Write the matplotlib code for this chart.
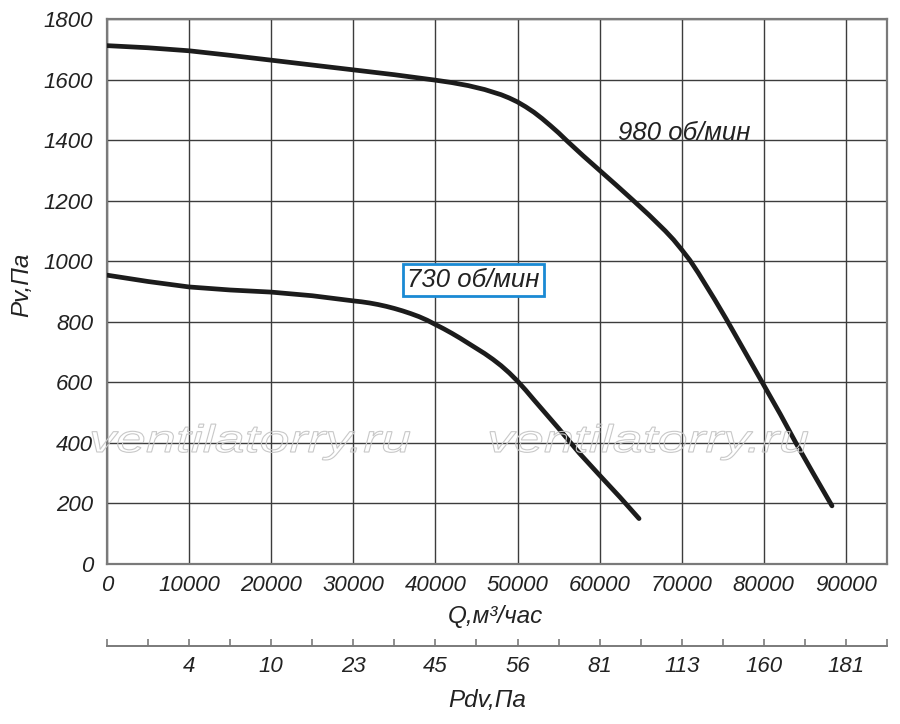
import matplotlib
matplotlib.use('Agg')
import matplotlib.pyplot as plt
from matplotlib.textpath import TextPath
from matplotlib.patches import PathPatch
from matplotlib.font_manager import FontProperties
from matplotlib.transforms import Affine2D

plt.rcParams['font.family'] = ['Liberation Sans', 'DejaVu Sans']
plt.rcParams['font.style'] = 'italic'

# 980 об/мин
q980 = [0, 5000, 10000, 15000, 20000, 25000, 30000, 35000, 40000, 42000, 44000, 46000,
        48000, 49000, 50000, 51000, 52000, 53000, 54000, 55000, 56000, 58000, 60000,
        62000, 64000, 66000, 68000, 69000, 70000, 71000, 72000, 74000, 75400, 77500, 79800,
        82000, 83900, 86000, 88300]
p980 = [1712, 1705, 1695, 1680, 1664, 1648, 1632, 1616, 1598, 1590, 1580, 1567,
        1550, 1539, 1526, 1510, 1492, 1471, 1448, 1424, 1398, 1348, 1300,
        1252, 1203, 1153, 1100, 1071, 1038, 1003, 962, 874, 810, 710, 600,
        495, 400, 300, 192]

# 730 об/мин
q730 = [0, 5000, 10000, 15000, 20000, 25000, 30000, 31000, 32000, 33000, 34000, 35000,
        36000, 37000, 38000, 39000, 40000, 41000, 42000, 43000, 44000, 45000, 46000,
        47000, 48000, 49000, 50000, 51000, 52000, 55000, 57500, 60000, 62500, 64800]
p730 = [954, 933, 915, 905, 898, 886, 869, 866, 862, 857, 851, 844,
        836, 827, 817, 805, 791, 777, 762, 746, 729, 712, 695,
        676, 655, 631, 604, 574, 542, 448, 367, 293, 220, 150]

q_ticks = [0, 10000, 20000, 30000, 40000, 50000, 60000, 70000, 80000, 90000]
p_ticks = [0, 200, 400, 600, 800, 1000, 1200, 1400, 1600, 1800]
pdv_pos = [10000, 20000, 30000, 40000, 50000, 60000, 70000, 80000, 90000]
pdv_labels = ['4', '10', '23', '45', '56', '81', '113', '160', '181']

W, H = 900, 724
txt = '#222222'
fig = plt.figure(figsize=(W / 100, H / 100), dpi=100)
ax = fig.add_axes([107 / W, 1 - 564 / H, 780 / W, 545 / H])
ax.set_xlim(0, 95000)
ax.set_ylim(0, 1800)
ax.set_xticks(q_ticks)
ax.set_xticklabels([str(v) for v in q_ticks])
ax.set_yticks(p_ticks)
ax.tick_params(length=0, labelsize=16, labelcolor=txt)
ax.tick_params(axis='x', pad=8)
ax.tick_params(axis='y', pad=10)
ax.grid(True, color='#3c3c3c', lw=1.0)
ax.set_axisbelow(True)
for s in ax.spines.values():
    s.set_color('#7a7a7a')
    s.set_linewidth(1.6)

ax.plot(q980, p980, color='#1c1c1c', lw=3.4, solid_capstyle='round', solid_joinstyle='round', zorder=5)
ax.plot(q730, p730, color='#1c1c1c', lw=3.4, solid_capstyle='round', solid_joinstyle='round', zorder=5)

ax.text(70300, 1423, '980 об/мин', fontsize=18.5, color=txt, ha='center', va='center', zorder=3)
ax.text(44650, 938, '730 об/мин', fontsize=18.5, color=txt, ha='center', va='center', zorder=6,
        bbox=dict(boxstyle='square,pad=0.16', fc='white', ec='#1a8ad4', lw=2))

# watermark
fp = FontProperties(family='Liberation Sans', style='italic')
tp = TextPath((0, 0), 'ventilatorry.ru', size=38.5, prop=fp)
ext = tp.get_extents()
sx = 318 / ext.width
for x0 in [92, 490]:
    tr = Affine2D().translate(-ext.x0, 0).scale(sx, 1).translate(x0, H - 452) \
        + Affine2D().scale(1 / W, 1 / H) + fig.transFigure
    fig.patches.append(PathPatch(tp, transform=tr, fc='none', ec='#c8c8c8', lw=0.8, zorder=4))

# second scale
ax2 = fig.add_axes([107 / W, 1 - 646 / H, 780 / W, 0.0001])
ax2.set_xlim(0, 95000)
for k in ['left', 'right', 'top']:
    ax2.spines[k].set_visible(False)
ax2.spines['bottom'].set_color('#7a7a7a')
ax2.spines['bottom'].set_linewidth(1.4)
ax2.set_yticks([])
ax2.set_xticks(list(range(0, 95001, 5000)), minor=True)
ax2.set_xticks(pdv_pos)
ax2.set_xticklabels(pdv_labels)
ax2.tick_params(axis='x', which='both', direction='in', length=5, width=1.2, color='#7a7a7a')
ax2.tick_params(axis='x', which='major', labelsize=16, labelcolor=txt, pad=7)
ax2.patch.set_visible(False)

fig.text(495 / W, 1 - 617 / H, 'Q,м³/час', fontsize=17.5, color=txt, ha='center', va='center')
fig.text(487 / W, 1 - 700 / H, 'Pdv,Па', fontsize=17.5, color=txt, ha='center', va='center')
fig.text(22 / W, 1 - 285 / H, 'Pv,Па', fontsize=17.5, color=txt, ha='center', va='center', rotation=90)

fig.savefig('out.png', dpi=100)
